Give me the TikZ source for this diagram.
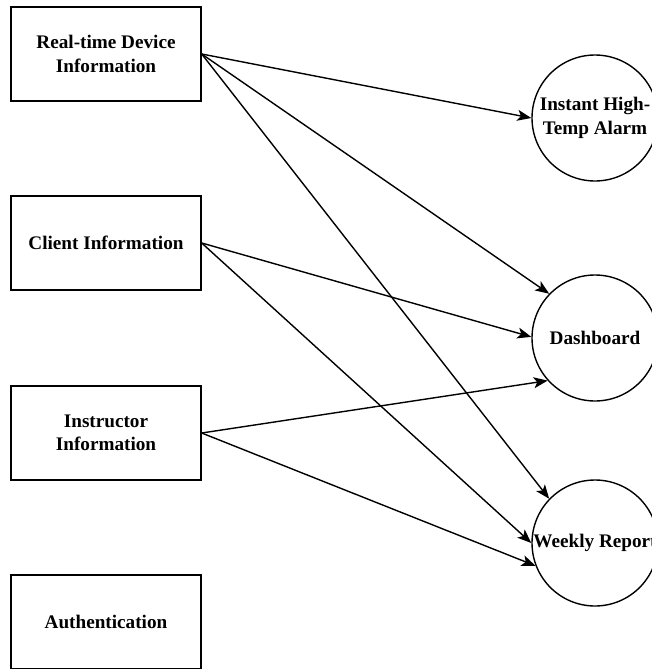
\documentclass[tikz,border=0pt]{standalone}
\usepackage{fontspec}
\setmainfont{Liberation Serif}
\usetikzlibrary{arrows.meta}
\begin{document}
\begin{tikzpicture}[x=1pt,y=-1pt,
  lbl/.style={font=\fontsize{19.2}{23.5}\selectfont\bfseries, align=center},
  databox/.style={lbl, draw, line width=1.4pt, minimum width=190pt, minimum height=94pt, inner sep=0pt},
  outcircle/.style={lbl, draw, circle, line width=1.4pt, minimum size=126pt, inner sep=0pt},
  flow/.style={line width=1.4pt, -{Stealth[length=14pt,width=11pt,inset=3.5pt]}}]
\useasboundingbox (0,0) rectangle (652,669);
\clip (0,0) rectangle (652,669);
\node[databox] (rt) at (106,54) {Real-time Device\\Information};
\node[databox] (cl) at (106,243) {Client Information};
\node[databox] (ins) at (106,433) {Instructor\\Information};
\node[databox] (au) at (106,622) {Authentication};
\node[outcircle] (al) at (595,118) {Instant High-\\Temp Alarm};
\node[outcircle] (db) at (595,338) {Dashboard};
\node[outcircle] (wr) at (595,543) {Weekly Report};
\draw[flow] (rt.east) -- (al.180);
\draw[flow] (rt.east) -- (db.136);
\draw[flow] (rt.east) -- (wr.136);
\draw[flow] (cl.east) -- (db.179);
\draw[flow] (cl.east) -- (wr.180);
\draw[flow] (ins.east) -- (db.222);
\draw[flow] (ins.east) -- (wr.201);
\end{tikzpicture}
\end{document}
